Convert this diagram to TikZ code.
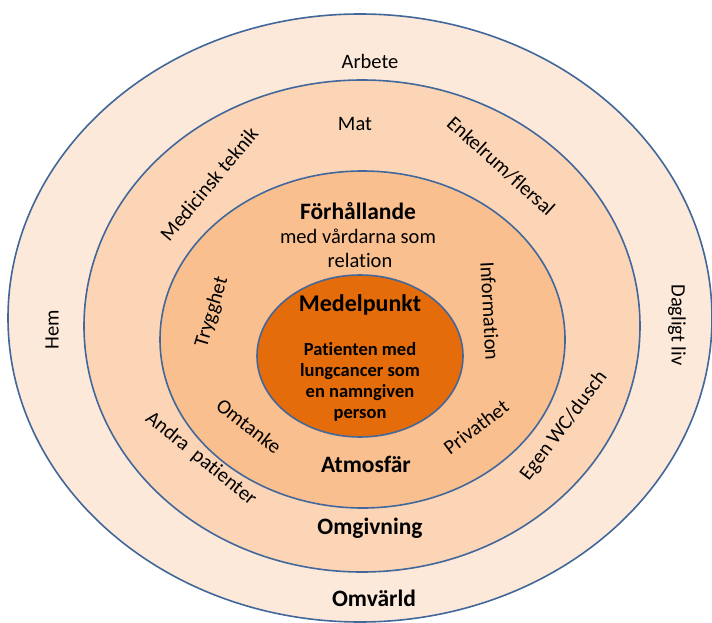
\documentclass[tikz,border=0pt]{standalone}
\usepackage{fontspec}
\setmainfont[Ligatures={NoCommon}]{Carlito}
\definecolor{ring1}{HTML}{FDE9D9}
\definecolor{ring2}{HTML}{FBD5B5}
\definecolor{ring3}{HTML}{F9BF8F}
\definecolor{core}{HTML}{E46C0A}
\definecolor{edge}{HTML}{41679B}
\tikzset{
  ring/.style={draw=edge, line width=1.6pt},
  lbl/.style={inner sep=0pt, font=\fontsize{20.5}{24}\selectfont},
  blbl/.style={inner sep=0pt, font=\bfseries\fontsize{23.5}{26}\selectfont},
  clbl/.style={inner sep=0pt, align=center, font=\bfseries\fontsize{18.5}{21}\selectfont},
}
\begin{document}
\begin{tikzpicture}[x=1pt,y=-1pt]
\useasboundingbox (0,0) rectangle (712,623);
\clip (0,0) rectangle (712,623);
\fill[white] (0,0) rectangle (712,623);
\draw[ring, fill=ring1] (360,318) ellipse [x radius=352, y radius=304];
\draw[ring, fill=ring2] (362,326) ellipse [x radius=278, y radius=246];
\draw[ring, fill=ring3] (362.5,339.5) ellipse [x radius=202.5, y radius=168.5];
\draw[ring, fill=core] (360,356) ellipse [x radius=103, y radius=81];

\node[lbl] (arbete) at (370,61) {Arbete};
\node[lbl] (mat) at (355,124) {Mat};
\node[lbl, rotate=50] (medtek) at (209,184) {Medicinsk teknik};
\node[lbl, rotate=-42] (enkel) at (501,166) {Enkelrum/flersal};
\node[lbl, rotate=90] (hem) at (52,330) {Hem};
\node[lbl, rotate=-90] (dagligt) at (677,325) {Dagligt liv};
\node[lbl, rotate=-39] (andra) at (201,459) {Andra\ \ patienter};
\node[lbl, rotate=53] (egen) at (564,426) {Egen WC/dusch};
\node[blbl] (omgiv) at (370,528) {Omgivning};
\node[blbl] (omvarld) at (374,598) {Omvärld};

\node[blbl] (forh) at (358,211) {Förhållande};
\node[lbl] (medv) at (358,236) {med vårdarna som};
\node[lbl] (rel) at (360,260) {relation};
\node[lbl, rotate=-87] (info) at (490,311) {Information};
\node[lbl, rotate=73] (trygg) at (212,312) {Trygghet};
\node[lbl, rotate=-38] (omtanke) at (249,426) {Omtanke};
\node[lbl, rotate=37] (priv) at (476,427) {Privathet};
\node[blbl] (atmos) at (366,464) {Atmosfär};

\node[blbl, font=\bfseries\fontsize{24}{28}\selectfont] (medel) at (360,305) {Medelpunkt};
\node[clbl] (pat) at (360,382) {Patienten med\\lungcancer som\\en namngiven\\person};
\end{tikzpicture}
\end{document}
